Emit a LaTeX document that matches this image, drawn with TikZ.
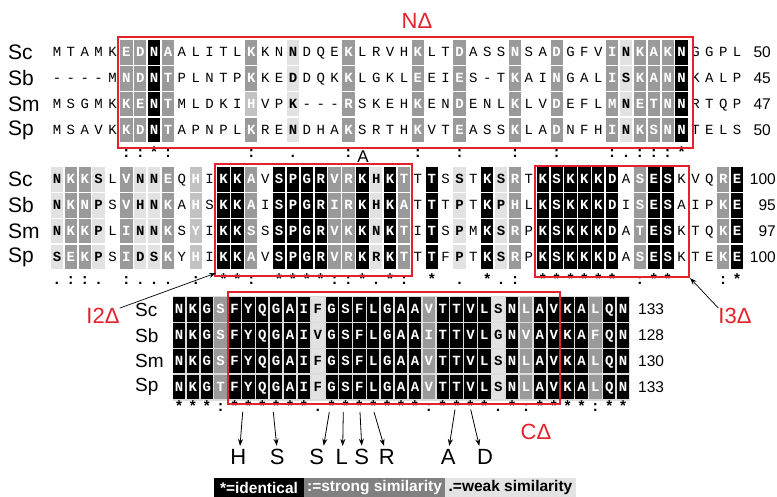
\documentclass[tikz,border=0pt]{standalone}
\usepackage{fontspec}
\setmainfont{Liberation Sans}
\newfontfamily\monof{Liberation Mono}
\usetikzlibrary{arrows.meta}
\definecolor{mred}{HTML}{E3222B}
\definecolor{mgray}{HTML}{9A9A9A}
\definecolor{lgray}{HTML}{C2C2C2}
\definecolor{pale}{HTML}{E2E2E2}
\definecolor{bgg}{HTML}{DCDCDC}
\definecolor{leggray}{HTML}{808080}
\definecolor{legpale}{HTML}{E3E3E3}
\newcommand\resfont{\monof\fontsize{14}{14}\selectfont}
\newcommand\consfont{\monof\fontsize{15}{15}\selectfont}
\newcount\rc
\makeatletter
\def\seqrow#1#2#3#4#5{\def\sr@n{#1}\def\sr@x{#2}\def\sr@y{#3}\rc=0 \sr@loop#4\relax#5\relax}
\def\sr@loop#1#2\relax#3#4\relax{\advance\rc by 1
  \node[res,sh#3] (\sr@n-\the\rc) at ({\sr@x+(\the\rc-1)*13.88},\sr@y) {#1};%
  \ifx\relax#2\relax\else\sr@loop#2\relax#4\relax\fi}
\def\consrow#1#2#3#4{\def\sr@n{#1}\def\sr@x{#2}\def\sr@y{#3}\rc=0 \cr@loop#4\relax}
\def\cr@loop#1#2\relax{\advance\rc by 1
  \if0#1\else\node[cons] (\sr@n-\the\rc) at ({\sr@x+(\the\rc-1)*13.88},\sr@y) {#1};\fi
  \ifx\relax#2\relax\else\cr@loop#2\relax\fi}
\makeatother
\begin{document}
\begin{tikzpicture}[x=1pt,y=-1pt,
  res/.style={minimum width=12.3pt,minimum height=24.3pt,inner sep=0pt,text height=8pt,text depth=0pt},
  shN/.style={font=\resfont},
  shL/.style={fill=pale,font=\resfont\bfseries},
  shG/.style={fill=mgray,text=white,font=\resfont\bfseries},
  shg/.style={fill=lgray,text=white,font=\resfont\bfseries},
  shB/.style={fill=black,text=white,font=\resfont\bfseries},
  cons/.style={inner sep=0pt,text height=8pt,text depth=0pt,font=\consfont\bfseries},
  sp/.style={anchor=west,inner sep=0pt,font=\fontsize{21}{21}\selectfont},
  spc/.style={anchor=west,inner sep=0pt,font=\fontsize{19}{19}\selectfont},
  num/.style={inner sep=0pt,font=\fontsize{15.5}{15.5}\selectfont},
  redlab/.style={text=mred,inner sep=0pt,font=\fontsize{22}{22}\selectfont},
  redbox/.style={draw=mred,line width=1.6pt},
  mut/.style={inner sep=3pt,font=\fontsize{22}{22}\selectfont},
  marr/.style={-{Stealth[length=7pt,width=5pt]},line width=0.8pt},
  larr/.style={-{Stealth[length=7pt,width=5pt]},line width=0.7pt},
  leg/.style={minimum height=19pt,inner sep=0pt,font=\fontsize{15.5}{15.5}\selectfont\bfseries}
]
\useasboundingbox (0,0) rectangle (777,497);
\fill[white] (0,0) rectangle (777,497);

% ---------- block 1 ----------
\node[sp] (s1a) at (8,52.5) {Sc};
\node[sp] (s1b) at (8,78.4) {Sb};
\node[sp] (s1c) at (8,104.3) {Sm};
\node[sp] (s1d) at (8,130.2) {Sp};
\seqrow{a1}{57}{52.5}{MTAMKEDNAALITLKKNNDQEKLRVHKLTDASSNSADGFVINKAKNGGPL}{NNNNNGGBGNNNNNGNNLNNNGNNNNGNNGNNNGNNGNNNGLGGGBNNNN}
\seqrow{b1}{57}{78.4}{----MNDNTPLNTPKKEDDQKKLGKLEEIES-TKAINGALISKANNKALP}{NNNNNGGBGNNNNNGNNLNNNGNNNNGNNGNNNGNNGNNNGLGGGBNNNN}
\seqrow{c1}{57}{104.3}{MSGMKKENTMLDKIHVPK---RSKEHKENDENLKLVDEFLMNETNNRTQP}{NNNNNGGBGNNNNNgNNLNNNGNNNNGNNGNNNGNNGNNNGLGGGBNNNN}
\seqrow{d1}{57}{130.2}{MSAVKKDNTAPNPLKRENDHAKSRTHKVTEASSKLADNFHINKSNNTELS}{NNNNNGGBGNNNNNGNNLNNNGNNNNGNNGNNNGNNGNNNGLGGGBNNNN}
\consrow{k1}{57}{153.5}{00000::*:00000:00.000:0000:00:000:00:000:.:::*0000}
\node[num,anchor=east] (n1a) at (771,52.5) {50};
\node[num,anchor=east] (n1b) at (771,78.4) {45};
\node[num,anchor=east] (n1c) at (771,104.3) {47};
\node[num,anchor=east] (n1d) at (771,130.2) {50};

% ---------- block 2 ----------
\node[sp] (s2a) at (8,179.5) {Sc};
\node[sp] (s2b) at (8,205.4) {Sb};
\node[sp] (s2c) at (8,231.3) {Sm};
\node[sp] (s2d) at (8,257.2) {Sp};
\seqrow{a2}{57}{179.5}{NKKSLVNNEQHIKKAVSPGRVRKHKTTTSSTKSRTKSKKKDASESKVQRE}{LGGLNGLLGNgNBBGNBBBBGGBLBGNBNLNBLGNBBBBBBNGBBNNNGB}
\seqrow{b2}{57}{205.4}{NKNPSVHNKAHSKKAISPGRIRKHKATTTPTKPHLKSKKKDISESAIPKE}{LGGLNGLLGNgNBBGNBBBBGGBLBGNBNLNBLGNBBBBBBNGBBNNNGB}
\seqrow{c2}{57}{231.3}{NKKPLINNKSYIKKSSSPGRVKKNKTITSPMKSRPKSKKKDATESKTQKE}{LGGLNGLLGNgNBBGNBBBBGGBLBGNBNLNBLGNBBBBBBNGBBNNNGB}
\seqrow{d2}{57}{257.2}{SEKPSIDSKYHIKKAVSPGRVRKRKTTTFPTKSRPKSKKKDASESKTEKE}{LGGLNGLLGNgNBBGNBBBBGGBLBGNBNLNBLGNBBBBBBNGBBNNNGB}
\consrow{k2}{57}{280.3}{.::.0:...0:0**:0****::*.*:0*0.0*.:0******0:**000:*}
\node[num,anchor=east] (n2a) at (776,179.5) {100};
\node[num,anchor=east] (n2b) at (776,205.4) {95};
\node[num,anchor=east] (n2c) at (776,231.3) {97};
\node[num,anchor=east] (n2d) at (776,257.2) {100};

% ---------- block 3 ----------
\fill[bgg] (172.5,296) rectangle (630,400.5);
\node[spc] (s3a) at (135,309.5) {Sc};
\node[spc] (s3b) at (135,335.4) {Sb};
\node[spc] (s3c) at (135,361.3) {Sm};
\node[spc] (s3d) at (135,387.2) {Sp};
\seqrow{a3}{179}{309.5}{NKGSFYQGAIFGSFLGAAVTTVLSNLAVKALQN}{BBBGBBBBBBLBBBBBBBGBBBBLBGBBBBGBB}
\seqrow{b3}{179}{335.4}{NKGSFYQGAIVGSFLGAAITTVLGNVAVKAFQN}{BBBGBBBBBBLBBBBBBBGBBBBLBGBBBBGBB}
\seqrow{c3}{179}{361.3}{NKGSFYQGAIFGSFLGAAVTTVLSNLAVKALQN}{BBBGBBBBBBLBBBBBBBGBBBBLBGBBBBGBB}
\seqrow{d3}{179}{387.2}{NKGTFYQGAIFGSFLGAAVTTVLSNLAVKALQN}{BBBGBBBBBBLBBBBBBBGBBBBLBGBBBBGBB}
\consrow{k3}{179}{407}{***:******.*******:****.*:****:**}
\node[num,anchor=west] (n3a) at (638,309.5) {133};
\node[num,anchor=west] (n3b) at (638,335.4) {128};
\node[num,anchor=west] (n3c) at (638,361.3) {130};
\node[num,anchor=west] (n3d) at (638,387.2) {133};

% ---------- red boxes and labels ----------
\draw[redbox] (118,37) rectangle (693,148);
\draw[redbox] (215,164) rectangle (412,276);
\draw[redbox] (535,166) rectangle (689,277);
\draw[redbox] (228,292) rectangle (560,404);
\node[redlab] (ndl) at (417,21) {NΔ};
\node[redlab] (i2lab) at (103,316) {I2Δ};
\node[redlab] (i3lab) at (735,316) {I3Δ};
\node[redlab] (cdl) at (536,431.5) {CΔ};
\node[inner sep=0pt,font=\fontsize{17}{17}\selectfont] (alab) at (363,157) {A};
\coordinate (i2c) at (216,273);
\coordinate (i3c) at (690,278);
\draw[larr] (i2lab.north east) -- (i2c);
\draw[larr] (i3lab.north west) -- (i3c);

% ---------- mutations ----------
\node[mut] (lH) at (238.3,456.7) {H};
\node[mut] (lS1) at (277.3,456.7) {S};
\node[mut] (lS2) at (316.7,456.7) {S};
\node[mut] (lL) at (341.7,456.7) {L};
\node[mut] (lS3) at (361.7,456.7) {S};
\node[mut] (lR) at (386.7,456.7) {R};
\node[mut] (lA) at (448.3,456.7) {A};
\node[mut] (lD) at (485,456.7) {D};
\coordinate (mH) at (242.7,412);
\coordinate (mS1) at (273.3,412);
\coordinate (mS2) at (329.3,412);
\coordinate (mL) at (343.3,412);
\coordinate (mS3) at (360,412);
\coordinate (mR) at (374,412);
\coordinate (mA) at (455,409.5);
\coordinate (mD) at (470.7,409.5);
\draw[marr] (mH) -- ([xshift=1.7pt]lH.north);
\draw[marr] (mS1) -- ([xshift=-0.6pt]lS1.north);
\draw[marr] (mS2) -- ([xshift=7pt]lS2.north);
\draw[marr] (mL) -- ([xshift=1pt]lL.north);
\draw[marr] (mS3) -- (lS3.north);
\draw[marr] (mR) -- ([xshift=-2.7pt]lR.north);
\draw[marr] (mA) -- ([xshift=1pt]lA.north);
\draw[marr] (mD) -- ([xshift=-5.7pt]lD.north);

% ---------- legend ----------
\node[leg,fill=black,text=white,minimum width=90pt] (lg1) at (259,487.5) {*=identical};
\node[leg,fill=leggray,text=white,minimum width=141pt] (lg2) at (374.5,487.5) {:=strong similarity};
\node[leg,fill=legpale,text=black,minimum width=131pt] (lg3) at (510.5,487.5) {.=weak similarity};
\end{tikzpicture}
\end{document}
